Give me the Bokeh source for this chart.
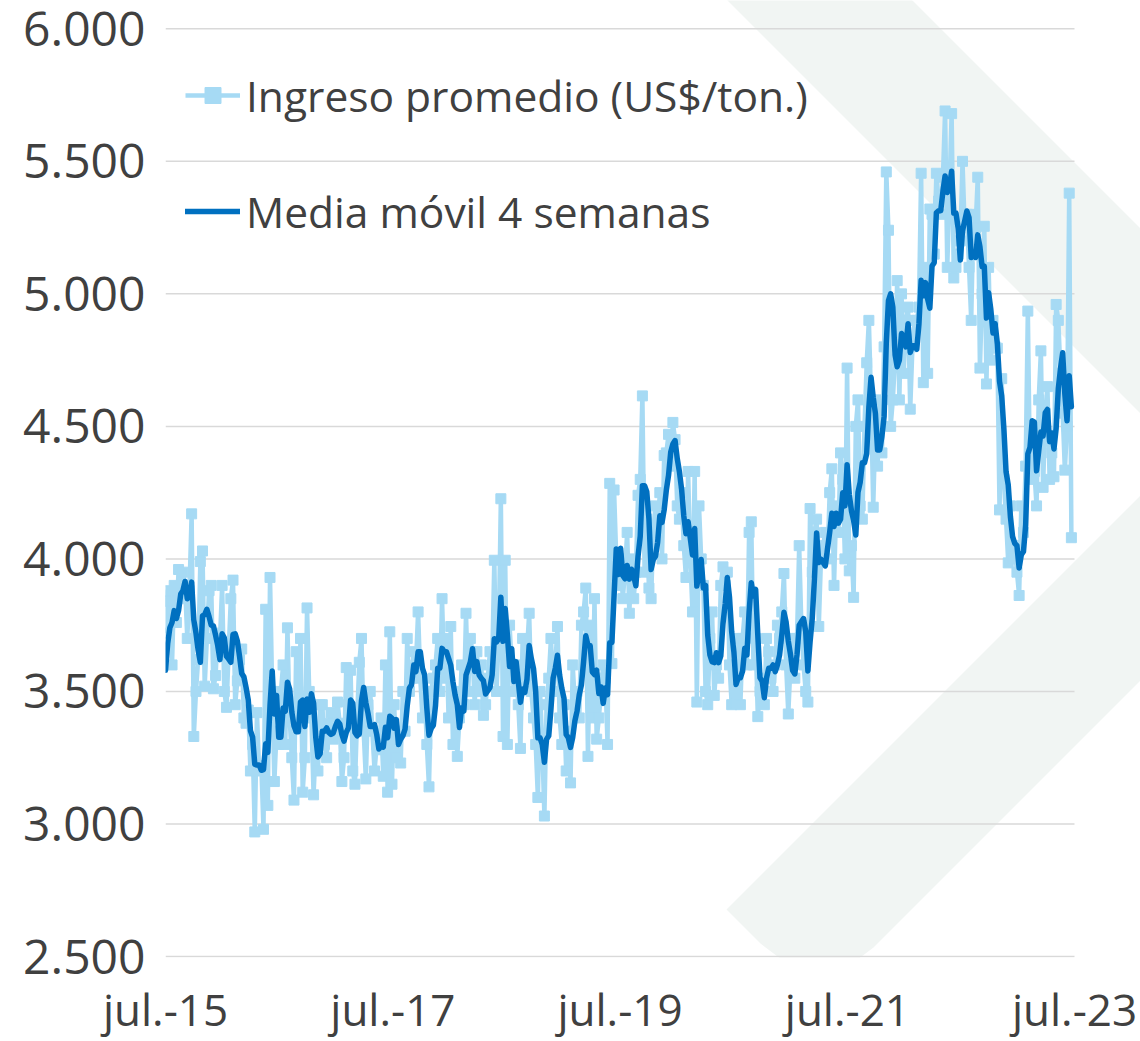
import pandas as pd
from bokeh.plotting import figure
from bokeh.models import Range1d, FixedTicker, Legend, LegendItem
from bokeh.embed import file_html
from bokeh.resources import INLINE

# ---------------- data (weekly average income, US$/ton) ----------------
# three June-2015 weeks, only used to start the 4-week moving average
previas = [3480, 3600, 3520]
sem_15_16 = [3720, 3880, 3840, 3600, 3900, 3760, 3960, 3850, 3950, 3900,
             3700, 3880, 4170, 3330, 3500, 3620, 3990, 4030, 3520, 3700,
             3880, 3900, 3510, 3560, 3720, 3690, 3900, 3500, 3440, 3650,
             3850, 3920, 3450, 3540, 3620, 3660, 3400, 3380, 3430, 3200,
             3300, 2970, 3420, 3200, 3220, 2980, 3810, 3070, 3930, 3500,
             3160, 3350, 3300]
sem_16_17 = [3500, 3600, 3300, 3740, 3400, 3250, 3090,
             3650, 3400, 3700, 3120, 3250, 3815, 3500, 3400, 3110, 3300,
             3200, 3450, 3450, 3300, 3250, 3380, 3420, 3320, 3350, 3460,
             3380, 3160, 3250, 3590, 3450, 3580, 3200, 3150, 3400, 3610,
             3700, 3350, 3170, 3450, 3500, 3350, 3200, 3300, 3280, 3400,
             3180, 3600, 3120, 3725, 3150]
sem_17_18 = [3450, 3250, 3350, 3230, 3500,
             3350, 3700, 3500, 3550, 3650, 3600, 3800, 3550, 3400, 3500,
             3300, 3140, 3500, 3550, 3600, 3700, 3500, 3850, 3550, 3700,
             3400, 3745, 3300, 3500, 3255, 3400, 3600, 3450, 3795, 3500,
             3700, 3650, 3450, 3650, 3500, 3600, 3410, 3450, 3550, 3650,
             3600, 3995, 3500, 3700, 4227, 3330, 3995]
sem_18_19 = [3300, 3750, 3600,
             3500, 3600, 3450, 3285, 3700, 3550, 3650, 3795, 3500, 3400,
             3300, 3100, 3500, 3300, 3030, 3450, 3550, 3700, 3500, 3600,
             3745, 3400, 3300, 3450, 3200, 3350, 3155, 3600, 3450, 3500,
             3400, 3750, 3800, 3890, 3255, 3750, 3400, 3850, 3320, 3400,
             3500, 3600, 3550, 3300, 4285, 3605, 4260, 4000, 3900, 4000]
sem_19_20 = [3850, 3950, 4100, 3795, 4000, 3850, 3950, 4240, 4300, 4615,
             3950, 4150, 3890, 3850, 4100, 4200, 4100, 4250, 4000, 4390,
             4400, 4470, 4350, 4515, 4450, 4200, 4150, 4250, 4050, 3930,
             4330, 4000, 3800, 4330, 3460, 4200, 4000, 3900, 3500, 3450,
             3700, 3800, 3485, 3600, 3550, 3900, 3970, 3900, 3950, 3600,
             3450, 3600, 3455]
sem_20_21 = [3700, 3450, 3700, 3800, 3600, 4100, 4140,
             3600, 3700, 3405, 3500, 3550, 3450, 3700, 3650, 3550, 3500,
             3600, 3750, 3700, 3800, 3945, 3600, 3415, 3600, 3700, 3550,
             3700, 4050, 3750, 3600, 3500, 3460, 4190, 3950, 4100, 4150,
             3745, 4000, 4050, 4100, 4000, 4250, 4340, 3900, 4200, 4100,
             4400, 4300, 4000, 4720, 3955, 4050, 3855]
sem_21_22 = [4500, 4600, 4200,
             4150, 4500, 4740, 4900, 4600, 4195, 4500, 4350, 4600, 4400,
             4800, 5460, 5240, 4500, 4600, 4750, 5050, 4600, 5000, 4700,
             4900, 4950, 4565, 4800, 4900, 4900, 4950, 5455, 4665, 5100,
             4700, 5320, 5300, 5150, 5455, 5350, 5300, 5440, 5690, 5100,
             5380, 5680, 5060, 5100, 5150]
sem_22_23 = [5200, 5500, 5250, 5300, 5100,
             4900, 5300, 5250, 5440, 4720, 5000, 5255, 4660, 5100, 4750,
             4900, 4800, 4795, 4185, 4680, 4300, 4150, 3985, 4200, 4000,
             4050, 3950, 3862, 4200, 4100, 4350, 4935, 4300, 4500, 4330,
             4200, 4600, 4785, 4270, 4550, 4650, 4300, 4400, 4310, 4960,
             4900, 4700, 4550, 4335, 4500, 5380, 4080]

y_ticks = [2500, 3000, 3500, 4000, 4500, 5000, 5500, 6000]
y_labels = ["2.500", "3.000", "3.500", "4.000", "4.500", "5.000", "5.500", "6.000"]
x_tick_dates = ["2015-07-03", "2017-07-03", "2019-07-03", "2021-07-03", "2023-07-03"]
x_labels = ["jul.-15", "jul.-17", "jul.-19", "jul.-21", "jul.-23"]

serie_nombre = "Ingreso promedio (US$/ton.)"
media_nombre = "Media móvil 4 semanas"

ingreso = (sem_15_16 + sem_16_17 + sem_17_18 + sem_18_19 +
           sem_19_20 + sem_20_21 + sem_21_22 + sem_22_23)
fechas = pd.date_range("2015-06-12", periods=len(previas) + len(ingreso), freq="7D")
serie = pd.Series(previas + ingreso, index=fechas, dtype=float)
media = serie.rolling(4).mean()
serie = serie.iloc[len(previas):]
media = media.iloc[len(previas):]

# ---------------- layout ----------------
W, H = 1140, 1041
LEFT = 165
FRAME_W = W - LEFT
FRAME_H = 957
BOTTOM = H - FRAME_H

t0 = pd.Timestamp(x_tick_dates[0])
t1 = pd.Timestamp(x_tick_dates[-1])
px_span = 909.0
x_end = t0 + (t1 - t0) * (FRAME_W / px_span)

Y6000, Y2500 = 28.3, 956.0
y_px_per = (Y2500 - Y6000) / 3500.0
y_top = 6000 + Y6000 / y_px_per
y_bot = 2500 - (FRAME_H - Y2500) / y_px_per

p = figure(width=W, height=H, x_axis_type="datetime",
           x_range=Range1d(t0, x_end), y_range=Range1d(y_bot, y_top),
           output_backend="svg", toolbar_location=None,
           min_border_left=LEFT, min_border_right=0, min_border_top=0,
           min_border_bottom=BOTTOM)
p.outline_line_color = None
p.grid.visible = False
p.background_fill_color = "white"
p.border_fill_color = "white"

# background watermark (frame pixel coordinates)
p.extra_x_ranges = {"px": Range1d(0, FRAME_W)}
p.extra_y_ranges = {"py": Range1d(FRAME_H, 0)}
wm_x = [552, 737, 1201, 708, 680, 660, 640, 620, 595, 561, 1016]
wm_y = [-10, -10, 454, 947, 968, 975, 972, 962, 943, 909, 454]
p.patch(wm_x, wm_y, x_range_name="px", y_range_name="py",
        fill_color="#f1f5f3", line_color=None)

# horizontal gridlines
p.segment(x0=[t0] * len(y_ticks), x1=[t1] * len(y_ticks), y0=y_ticks, y1=y_ticks,
          line_color="#d9d9d9", line_width=1.5)

LIGHT = "#a6daf4"
DARK = "#0070c0"
r_line = p.line(serie.index, serie.values, line_color=LIGHT, line_width=4.5, line_join="round")
r_pts = p.scatter(serie.index, serie.values, marker="square", size=10,
                  fill_color=LIGHT, line_color=LIGHT)
r_ma = p.line(media.index, media.values, line_color=DARK, line_width=5.5,
              line_join="round", line_cap="round")

# axes
FONT = "Open Sans"
TXT = "#404040"
p.yaxis.ticker = FixedTicker(ticks=y_ticks)
p.yaxis.major_label_overrides = dict(zip(y_ticks, y_labels))
tick_ms = [int(pd.Timestamp(d).value // 10**6) for d in x_tick_dates]
p.xaxis.ticker = FixedTicker(ticks=tick_ms)
p.xaxis.major_label_overrides = dict(zip(tick_ms, x_labels))
for ax in (p.xaxis, p.yaxis):
    ax.axis_line_color = None
    ax.major_tick_line_color = None
    ax.minor_tick_line_color = None
    ax.major_label_text_font = FONT
    ax.major_label_text_color = TXT
p.yaxis.major_label_text_font_size = "48px"
p.yaxis.major_label_standoff = 14
p.xaxis.major_label_text_font_size = "44px"
p.xaxis.major_label_standoff = 15

LEG_TOP = 60
legend = Legend(items=[LegendItem(label=serie_nombre, renderers=[r_line, r_pts]),
                       LegendItem(label=media_nombre, renderers=[r_ma])],
                location=(20, FRAME_H - LEG_TOP - 186))
legend.label_text_font = FONT
legend.label_text_font_size = "42.5px"
legend.label_text_color = TXT
legend.glyph_width = 55
legend.glyph_height = 40
legend.label_height = 70
legend.spacing = 46
legend.padding = 0
legend.margin = 0
legend.label_standoff = 6
legend.border_line_color = None
legend.background_fill_alpha = 0
p.add_layout(legend, "center")

open("out.html", "w").write(file_html(p, INLINE))
